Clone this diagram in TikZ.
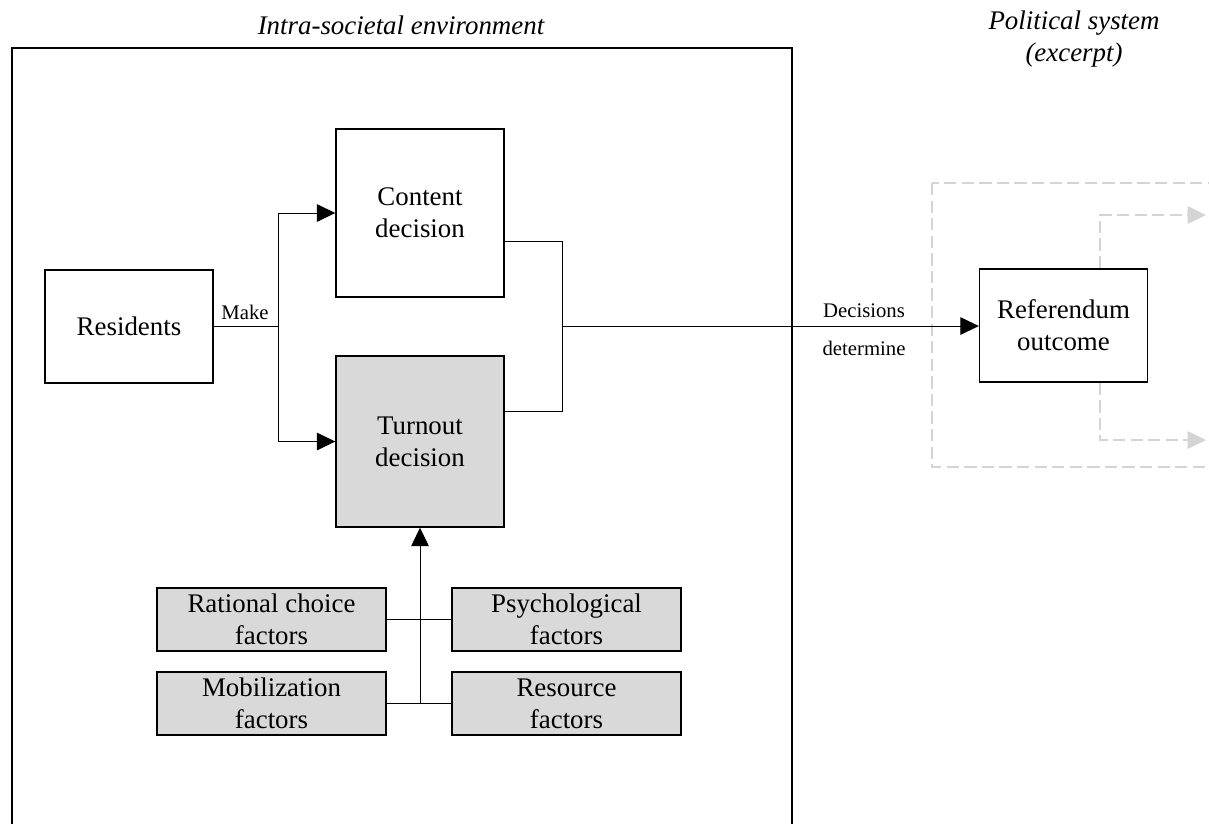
\documentclass[tikz,border=0pt]{standalone}
\usepackage{fontspec}
\setmainfont{Liberation Serif}
\usepackage{xcolor}
\usetikzlibrary{calc}
\usetikzlibrary{arrows.meta}
\usetikzlibrary{positioning}
\definecolor{factor-gray}{RGB}{217, 217, 217}
\definecolor{excerpt-gray}{RGB}{212, 212, 212}
\newcommand{\boxfont}{\fontsize{15.3}{18.2}\selectfont}
\newcommand{\labelfont}{\fontsize{11.8}{14}\selectfont}
\tikzset{
  stage/.style={draw=black, line width=0.8pt, fill=white, inner sep=0pt, align=center,
    font=\boxfont, minimum width=3.36cm, minimum height=2.26cm},
  factor/.style={stage, fill=factor-gray, minimum width=4.58cm, minimum height=1.26cm},
  link/.style={draw=black, line width=0.55pt},
  arrowlink/.style={link, -{Triangle[length=10.5pt,width=10pt]}},
  faint/.style={draw=excerpt-gray, line width=0.7pt, dash pattern=on 7pt off 3pt},
  faintarrow/.style={faint, -{Triangle[length=10.5pt,width=10pt,fill=excerpt-gray]}},
  heading/.style={font=\boxfont\itshape, align=center, inner sep=0pt},
  edgelabel/.style={font=\labelfont, inner sep=0pt}
}
\begin{document}
\begin{tikzpicture}[x=0.02cm, y=-0.02cm]
\clip (0,0) rectangle (1209,823);
\fill[white] (0,0) rectangle (1209,823);

\draw[line width=0.7pt] (12,48) rectangle (792,840);
\draw[faint] (932,183) rectangle (1240,467);

\node[heading] (intra) at (401,25) {Intra-societal environment};
\node[heading] (polsys) at (1074,39) {Political system\\(excerpt)};

\node[stage] (residents) at (129,326.5) {Residents};
\node[stage, minimum height=3.36cm] (content) at (420,213) {Content\\decision};
\node[stage, fill=factor-gray, minimum height=3.42cm] (turnout) at (420,441.5) {Turnout\\decision};
\node[stage] (referendum) at (1063.5,325.5) {Referendum\\outcome};

\node[factor] (rational) at (271.5,619.5) {Rational choice\\factors};
\node[factor] (psych) at (566.5,619.5) {Psychological\\factors};
\node[factor] (mobil) at (271.5,703.5) {Mobilization\\factors};
\node[factor] (resource) at (566.5,703.5) {Resource\\factors};

\coordinate (split) at (278,326.5);
\coordinate (join) at (562,326);
\coordinate (hub) at (420,703.5);
\coordinate (outA) at (1206,215);
\coordinate (outB) at (1206,440);

\draw[link] (residents) -- (split);
\draw[arrowlink] (split) |- (content);
\draw[arrowlink] (split) |- (turnout);
\node[edgelabel] (make) at (245,312) {Make};

\draw[link] (content.east) ++(0,28) -| (join);
\draw[link] (turnout.east) ++(0,-30.5) -| (join);
\draw[arrowlink] (join) -- (join -| referendum.west);
\node[edgelabel] (decisions) at (864,311) {Decisions};
\node[edgelabel] (determine) at (864,348) {determine};

\draw[link] (rational) -- (psych);
\draw[link] (mobil) -- (resource);
\draw[arrowlink] (hub) -- (turnout);

\draw[faintarrow] (referendum.north) ++(36.5,0) |- (outA);
\draw[faintarrow] (referendum.south) ++(36.5,0) |- (outB);
\end{tikzpicture}
\end{document}
